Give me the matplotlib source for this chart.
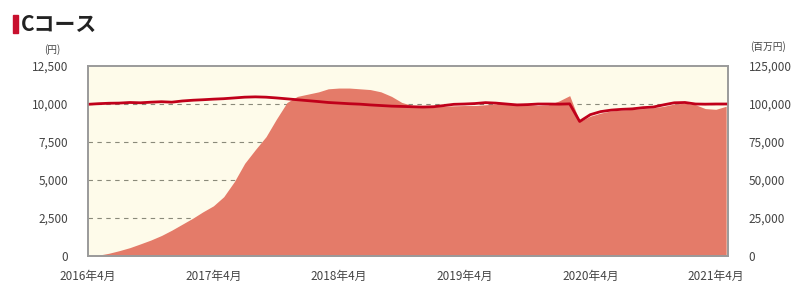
import matplotlib
matplotlib.use("Agg")
import matplotlib.pyplot as plt
import numpy as np
import pandas as pd

plt.rcParams["font.family"] = ["Noto Sans CJK JP", "DejaVu Sans"]

# monthly points, 2016-04 .. 2021-05
months = pd.date_range("2016-04-01", periods=62, freq="MS")

# 基準価額 (円)
nav = [
    9980, 10020, 10050, 10060, 10100, 10080, 10120, 10150, 10120, 10200,
    10250, 10280, 10320, 10350, 10400, 10450, 10470, 10450, 10400, 10340,
    10280, 10220, 10160, 10100, 10060, 10020, 9990, 9940, 9900, 9860,
    9840, 9820, 9800, 9820, 9900, 9980, 10000, 10030, 10090, 10060,
    10000, 9940, 9960, 10000, 10000, 9990, 10010, 8850, 9300, 9500,
    9600, 9650, 9680, 9760, 9800, 9950, 10080, 10100, 10000, 9990,
    10000, 10000,
]

# 純資産総額 (百万円)
assets = [
    0, 500, 1800, 3500, 5500, 8000, 10500, 13500, 17000, 21000,
    25000, 29000, 33000, 39000, 49000, 61000, 70000, 78500, 90000, 101000,
    105000, 106500, 108000, 110000, 110500, 110500, 110000, 109500, 108000, 105000,
    101000, 99000, 98000, 98200, 98500, 98800, 99000, 99000, 99500, 100000,
    100500, 100000, 99500, 99000, 99500, 102000, 105500, 88500, 92000, 94000,
    95500, 96000, 96500, 97000, 97500, 98500, 100000, 100500, 99500, 97000,
    96500, 98500,
]

left_ticks = [0, 2500, 5000, 7500, 10000, 12500]
right_ticks = [0, 25000, 50000, 75000, 100000, 125000]
tick_years = [2016, 2017, 2018, 2019, 2020, 2021]

AREA = "#E47B69"
LINE = "#C0001A"
BG = "#FEFBEA"
TXT = "#444444"

fig = plt.figure(figsize=(7.99, 2.87), dpi=100)
ax2 = fig.add_axes([0.110, 0.108, 0.801, 0.662])
ax = ax2.twinx()
ax2.yaxis.tick_right()
ax.yaxis.tick_left()

ax2.set_facecolor(BG)
ax2.fill_between(months, assets, 0, color=AREA, lw=0, zorder=2)
ax2.set_ylim(0, 125000)
ax2.set_yticks(right_ticks)
ax2.set_yticklabels([f"{v:,}" for v in right_ticks])
for v in right_ticks[1:-1]:
    ax2.axhline(v, color="#8a8a7a", lw=0.8, ls=(0, (4, 4)), zorder=1)

ax.set_zorder(ax2.get_zorder() + 1)
ax.patch.set_visible(False)
ax.plot(months, nav, color=LINE, lw=2.0, solid_joinstyle="round")
ax.set_ylim(0, 12500)
ax.set_yticks(left_ticks)
ax.set_yticklabels([f"{v:,}" for v in left_ticks])

ax.set_xlim(pd.Timestamp("2016-04-01"), pd.Timestamp("2021-05-06"))
xt = [pd.Timestamp(f"{y}-04-01") for y in tick_years]
ax2.set_xticks(xt)
ax2.set_xticklabels([f"{y}年4月" for y in tick_years])

for a in (ax, ax2):
    a.tick_params(length=0, labelsize=8.5, colors=TXT)
    for s in a.spines.values():
        s.set_color("#9a9a9a")
        s.set_linewidth(1.2)
ax2.tick_params(axis="x", pad=10)
ax2.tick_params(axis="y", pad=15)
ax.tick_params(axis="y", pad=14)

# title and units
fig.patches.append(plt.Rectangle((0.016, 0.885), 0.006, 0.063, transform=fig.transFigure,
                                 color="#C8102E", figure=fig))
fig.text(0.026, 0.916, "Cコース", fontsize=15, fontweight="bold", color="#222222", va="center")
fig.text(0.065, 0.826, "(円)", fontsize=7, color=TXT, ha="center", va="center")
fig.text(0.961, 0.838, "(百万円)", fontsize=7, color=TXT, ha="center", va="center")

fig.savefig("out.png", dpi=100)
